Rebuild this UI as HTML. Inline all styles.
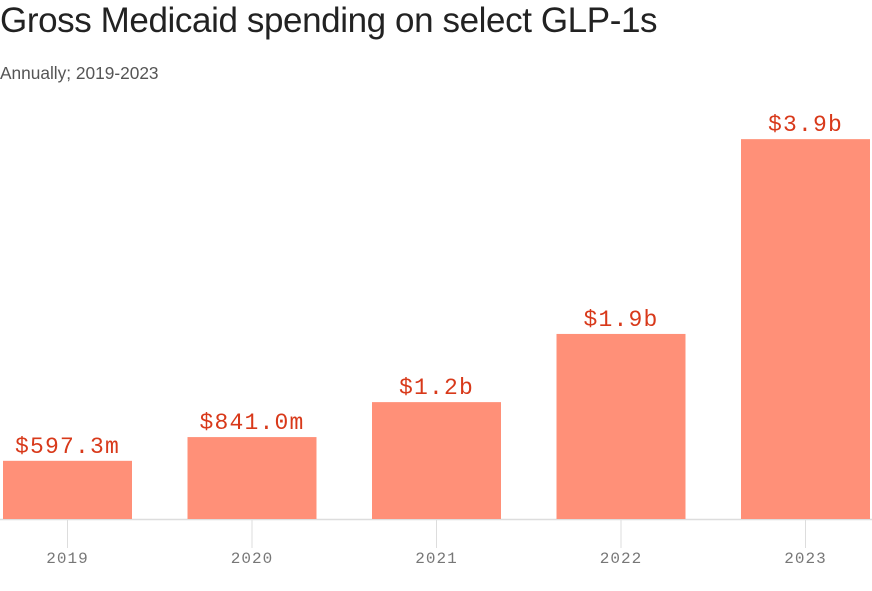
<!DOCTYPE html>
<html><head><meta charset="utf-8"><style>
body{margin:0;background:#fff;width:872px;height:591px;overflow:hidden;font-family:"Liberation Sans",sans-serif}
h1{position:absolute;left:0;top:1px;margin:0;font-weight:400;font-size:35px;color:#222;letter-spacing:-0.4px}
.sub{position:absolute;left:0;top:63px;font-size:17.3px;color:#555}
svg{position:absolute;left:0;top:0}
</style></head><body>
<h1>Gross Medicaid spending on select GLP-1s</h1>
<div class="sub">Annually; 2019-2023</div>
<svg id="c" width="872" height="591"></svg>
<script>
const categories=["2019","2020","2021","2022","2023"];
const values=[0.5973,0.841,1.2,1.9,3.9];
const valueLabels=["$597.3m","$841.0m","$1.2b","$1.9b","$3.9b"];
const svg=document.getElementById('c');
const NS='http://www.w3.org/2000/svg';
const base=519, pxPer=97.4, x0=3, step=184.5, bw=129;
const y=v=>base-v*pxPer;
function mk(t,a){const e=document.createElementNS(NS,t);for(const k in a)e.setAttribute(k,a[k]);svg.appendChild(e);return e;}
const ax=mk('line',{x1:0,x2:872,y1:base+0.5,y2:base+0.5,stroke:'#ddd','stroke-width':1.5});


categories.forEach((c,i)=>{
  const x=x0+i*step, cx=x+bw/2;
  const r=mk('rect',{x:x,y:y(values[i]),width:bw,height:base-y(values[i]),fill:'#ff9078'});
  
  
  const t=mk('line',{x1:cx,x2:cx,y1:base,y2:548,stroke:'#ddd','stroke-width':1});
  
  
  const l=mk('text',{x:cx,y:563,'text-anchor':'middle','font-family':'Liberation Mono, monospace','font-size':16,'letter-spacing':1,fill:'#777'});
  l.textContent=c;
  
  
  const v=mk('text',{x:cx,y:y(values[i])-8,'text-anchor':'middle','font-family':'Liberation Mono, monospace','font-size':23,'letter-spacing':1.2,fill:'#d8391a'});
  v.textContent=valueLabels[i];
  
  
});
</script>
</body></html>
